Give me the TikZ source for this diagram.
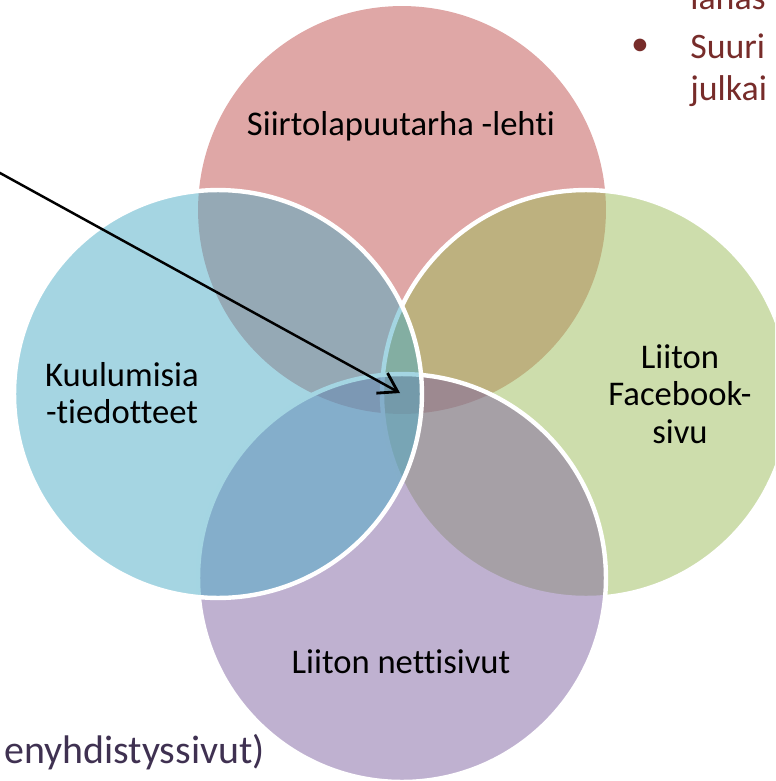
\documentclass[tikz,border=0pt]{standalone}
\usepackage{fontspec}
\setmainfont{Carlito}[Ligatures=NoCommon]
\usepackage{xcolor}
\usetikzlibrary{arrows.meta}

\definecolor{vred}{HTML}{C0504D}
\definecolor{vgreen}{HTML}{9BBB59}
\definecolor{vpurple}{HTML}{8064A2}
\definecolor{vblue}{HTML}{4BACC6}
\definecolor{bullettext}{HTML}{772C2A}
\definecolor{bottomtext}{HTML}{3F3151}

\begin{document}
\begin{tikzpicture}[x=0.02cm,y=-0.02cm,
  venn/.style={fill=#1,fill opacity=0.5,draw=white,draw opacity=1,line width=2.5pt},
  settext/.style={align=center,inner sep=0pt,font=\fontsize{19.7}{21.3}\selectfont},
  sidetext/.style={anchor=base west,inner sep=0pt,text=bullettext,font=\fontsize{20.4}{24}\selectfont}]
\useasboundingbox (0,0) rectangle (775,781);
\clip (0,0) rectangle (775,781);

% the four sets
\fill[vred,fill opacity=0.5] (402,210) circle[radius=4.08cm];
\draw[venn=vgreen] (586,394) circle[radius=4.08cm];
\draw[venn=vpurple] (402,578) circle[radius=4.08cm];
\draw[venn=vblue] (218,394) circle[radius=4.08cm];

\node[settext] (lehti) at (401,126) {Siirtolapuutarha -lehti};
\node[settext] (kuulumisia) at (122,393) {Kuulumisia\\-tiedotteet};
\node[settext] (facebook) at (680,394) {Liiton\\Facebook-\\sivu};
\node[settext] (netti) at (401,662) {Liiton nettisivut};

% text of the slide around it
\node[sidetext] (line1) at (690,10) {lahas};
\node[inner sep=0pt,text=bullettext,font=\fontsize{20.4}{24}\selectfont] (dot) at (640,47) {•};
\node[sidetext] (line2) at (690,58) {Suuri};
\node[sidetext] (line3) at (690,100) {julkai};
\node[anchor=base east,inner sep=0pt,text=bottomtext,font=\fontsize{22.7}{26}\selectfont] (sivut) at (265,763) {enyhdistyssivut)};

\coordinate (src) at (-20,162);
\coordinate (tgt) at (400,393);
\draw[-{Straight Barb[length=3.6mm,width=4.6mm,line width=1.6pt]},line width=1.4pt] (src) -- (tgt);
\end{tikzpicture}
\end{document}
